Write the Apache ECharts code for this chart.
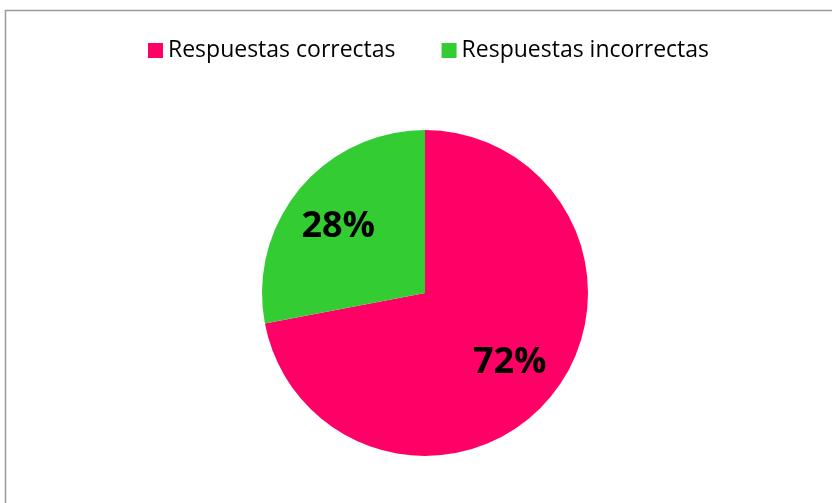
<!DOCTYPE html>
<html>
<head>
<meta charset="utf-8">
<style>
  html, body { margin: 0; padding: 0; background: #fff; }
  #chart { width: 832px; height: 503px; }
</style>
<script src="https://cdn.jsdelivr.net/npm/echarts@6/dist/echarts.min.js"></script>
</head>
<body>
<div id="chart"></div>
<script>
// data
var categories = ['Respuestas correctas', 'Respuestas incorrectas'];
var values = [72, 28];
var colors = ['#FF0066', '#33CC33'];

var pieData = categories.map(function (name, i) {
  return { name: name, value: values[i], itemStyle: { color: colors[i] } };
});

var chart = echarts.init(document.getElementById('chart'));
chart.setOption({
  animation: false,
  graphic: [{
    type: 'rect',
    shape: { x: 5.5, y: 10.5, width: 900, height: 600 },
    style: { fill: 'none', stroke: '#9a9a9a', lineWidth: 1.5 },
    silent: true
  }],
  legend: {
    data: categories,
    top: 39,
    left: 148,
    padding: 0,
    itemWidth: 15,
    itemHeight: 15,
    itemGap: 46,
    icon: 'rect',
    textStyle: { fontFamily: 'Open Sans', fontSize: 23, color: '#000' }
  },
  series: [
    {
      type: 'pie',
      center: [425, 293],
      radius: 163,
      startAngle: 90,
      clockwise: true,
      label: { show: false },
      labelLine: { show: false },
      emphasis: { disabled: true },
      data: pieData
    },
    {
      // transparent ring just to put the labels at about 2/3 of the radius
      type: 'pie',
      center: [425, 293],
      radius: [104, 110],
      startAngle: 90,
      clockwise: true,
      silent: true,
      itemStyle: { color: 'rgba(0,0,0,0)' },
      label: {
        show: true,
        position: 'inside',
        formatter: '{d}%',
        fontFamily: 'Open Sans',
        fontWeight: 'bold',
        fontSize: 36,
        color: '#000'
      },
      labelLayout: function (params) {
        if (params.dataIndex === 1) return { dx: -2, dy: 4 };
        return {};
      },
      labelLine: { show: false },
      data: categories.map(function (name, i) {
        return { name: name, value: values[i], itemStyle: { color: 'rgba(0,0,0,0)' } };
      })
    }
  ]
});
</script>
</body>
</html>
